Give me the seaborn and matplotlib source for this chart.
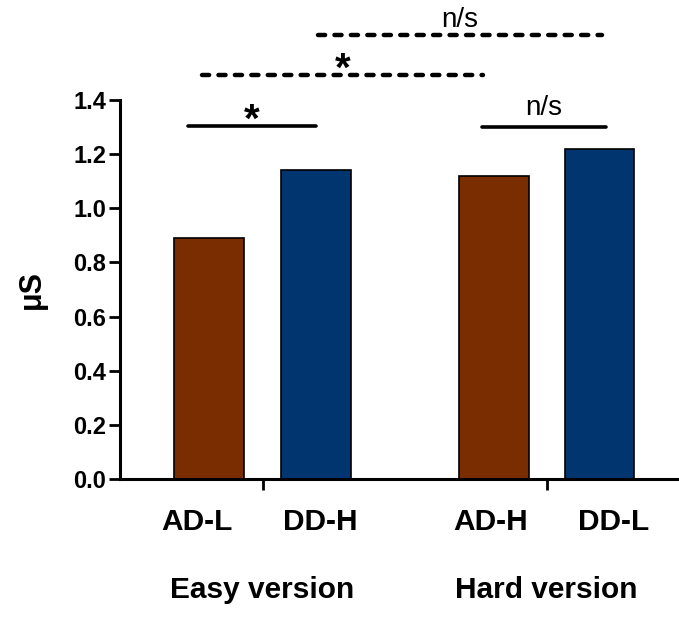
import numpy as np
import pandas as pd
import matplotlib
matplotlib.use("Agg")
from matplotlib import pyplot as plt
import seaborn as sns

# values
labels = ["AD-L", "DD-H", "AD-H", "DD-L"]
values = [0.89, 1.14, 1.12, 1.22]
groups = ["Easy version", "Hard version"]
yticks = [0.0, 0.2, 0.4, 0.6, 0.8, 1.0, 1.2, 1.4]
# significance brackets: (bar i, bar j, text, dashed)
brackets = [(0, 1, "*", False), (2, 3, "n/s", False),
            (0, 2, "*", True), (1, 3, "n/s", True)]

# layout only
pos = [0.0, 1.0, 2.66, 3.65]
lab_off = [-0.11, 0.04, -0.03, 0.13]
colors = {"AD-L": "#7a2e00", "DD-H": "#003570", "AD-H": "#7a2e00", "DD-L": "#003570"}
br_y = [1.305, 1.30, 1.492, 1.640]
br_off = [(-0.2, 0.0), (-0.11, 0.06), (-0.065, -0.1), (0.02, 0.02)]

sns.set_style("ticks", {"axes.edgecolor": "black", "text.color": "black",
                        "axes.labelcolor": "black", "xtick.color": "black",
                        "ytick.color": "black"})
plt.rcParams['font.family'] = ['Liberation Sans', 'DejaVu Sans']

df = pd.DataFrame({"pos": pos, "value": values, "label": labels})

fig = plt.figure(figsize=(6.79, 6.22), dpi=100)
ax = fig.add_axes([120 / 679, 1 - 479 / 622, 559 / 679, 379 / 622])

sns.barplot(data=df, x="pos", y="value", hue="label", palette=colors,
            native_scale=True, width=0.66, saturation=1, edgecolor="black",
            linewidth=1.2, legend=False, ax=ax)

ax.set_xlim(-0.832, 4.393)
ax.set_ylim(0, 1.4)
ax.set_yticks(yticks)
ax.set_yticklabels(["%.1f" % t for t in yticks], fontsize=17, fontweight="bold")
ax.set_xticks([(pos[0] + pos[1]) / 2, (pos[2] + pos[3]) / 2])
ax.set_xticklabels([])
ax.tick_params(axis="y", length=8, width=2, pad=2, colors="black")
ax.tick_params(axis="x", length=8, width=2, colors="black")
for s in ["top", "right"]:
    ax.spines[s].set_visible(False)
for s in ["left", "bottom"]:
    ax.spines[s].set_linewidth(2.2)
    ax.spines[s].set_color("black")
ax.set_xlabel("")
ax.set_ylabel("μS", fontsize=22, fontweight="bold")
ax.yaxis.set_label_coords(-0.13, 0.5)

tr = ax.get_xaxis_transform()
for p, o, lab in zip(pos, lab_off, labels):
    ax.text(p + o, -0.113, lab, transform=tr, ha="center", va="center",
            fontsize=21.5, fontweight="bold")
for k, g in enumerate(groups):
    ax.text((pos[2 * k] + pos[2 * k + 1]) / 2, -0.293, g, transform=tr,
            ha="center", va="center", fontsize=21.5, fontweight="bold")

for (i, j, txt, dashed), y, (dl, dr) in zip(brackets, br_y, br_off):
    x0, x1 = pos[i] + dl, pos[j] + dr
    if dashed:
        ax.plot([x0, x1], [y, y], color="black", lw=3.2, ls=(0, (1.6, 2.1)),
                dash_capstyle="round", clip_on=False)
    else:
        ax.plot([x0, x1], [y, y], color="black", lw=2.6,
                solid_capstyle="round", clip_on=False)
    if txt == "*":
        ax.text((x0 + x1) / 2, y - 0.022, txt, ha="center", va="baseline",
                fontsize=29, fontweight="bold", clip_on=False)
    else:
        ax.text((x0 + x1) / 2, y + (0.044 if not dashed else 0.03), txt,
                ha="center", va="baseline", fontsize=20, clip_on=False)

fig.savefig("out.png", dpi=100)
